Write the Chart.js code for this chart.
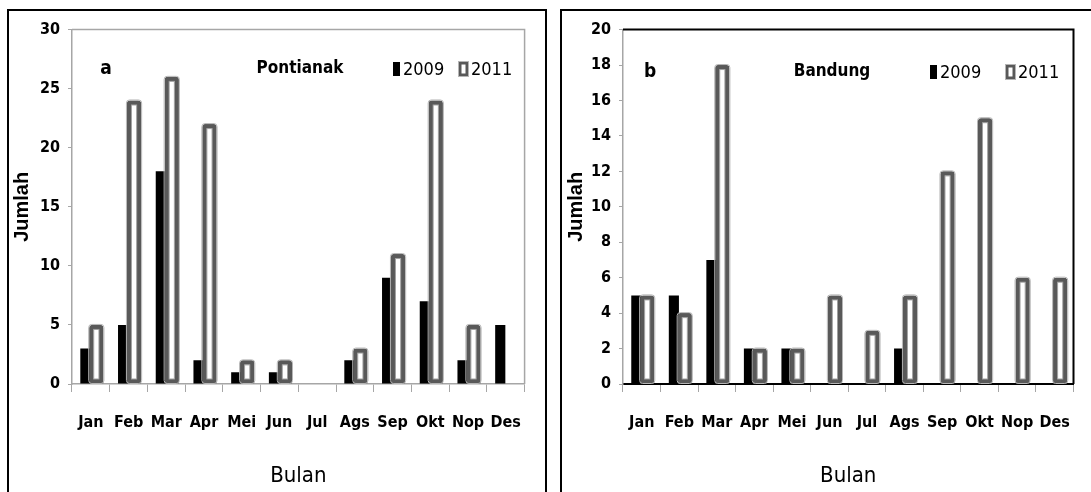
<!DOCTYPE html>
<html>
<head>
<meta charset="utf-8">
<script src="https://cdn.jsdelivr.net/npm/chart.js@4.4.1/dist/chart.umd.min.js"></script>
<style>
  body { margin: 0; background: #fff; width: 1091px; height: 492px; overflow: hidden; position: relative; }
  .box { position: absolute; border: 2px solid #000; box-sizing: border-box; }
  #boxA { left: 7px; top: 9px; width: 540px; height: 500px; }
  #boxB { left: 560px; top: 9px; width: 540px; height: 500px; }
  canvas { position: absolute; }
  #chartA { left: 10px; top: 12px; width: 532px; height: 478px; }
  #chartB { left: 564px; top: 12px; width: 527px; height: 478px; }
</style>
</head>
<body>
<div class="box" id="boxA"></div>
<div class="box" id="boxB"></div>
<canvas id="chartA" width="532" height="478"></canvas>
<canvas id="chartB" width="527" height="478"></canvas>
<script>
// data
const bulan = ['Jan', 'Feb', 'Mar', 'Apr', 'Mei', 'Jun', 'Jul', 'Ags', 'Sep', 'Okt', 'Nop', 'Des'];
const tahun = ['2009', '2011'];
const pontianak2009 = [3, 5, 18, 2, 1, 1, 0, 2, 9, 7, 2, 5];
const pontianak2011 = [5, 24, 26, 22, 2, 2, 0, 3, 11, 24, 5, 0];
const bandung2009 = [5, 5, 7, 2, 2, 0, 0, 2, 0, 0, 0, 0];
const bandung2011 = [5, 4, 18, 2, 2, 5, 3, 5, 12, 15, 6, 6];
const yTicksA = [0, 5, 10, 15, 20, 25, 30];
const yTicksB = [0, 2, 4, 6, 8, 10, 12, 14, 16, 18, 20];

const narrow = "'DejaVu Sans Condensed', 'Liberation Sans Narrow', sans-serif";

// frame round the plot area
const frame = {
  id: 'frame',
  beforeDatasetsDraw(chart, args, opts) {
    const a = chart.chartArea;
    const ctx = chart.ctx;
    ctx.save();
    ctx.strokeStyle = opts.color;
    ctx.lineWidth = opts.width;
    ctx.beginPath();
    ctx.moveTo(a.left, a.top);
    ctx.lineTo(a.right, a.top);
    ctx.lineTo(a.right, a.bottom);
    ctx.stroke();
    ctx.restore();
  }
};

// 2011 bars go on top of the 2009 ones, with a light rim and inner line
const bevel = {
  id: 'bevel',
  afterDatasetsDraw(chart) {
    const ctx = chart.ctx;
    const vals = chart.data.datasets[1].data;
    chart.getDatasetMeta(1).data.forEach((bar, i) => {
      if (!vals[i]) return;
      bar.draw(ctx);
      const p = bar.getProps(['x', 'y', 'base', 'width'], true);
      const l = p.x - p.width / 2;
      const h = p.base - p.y;
      ctx.save();
      ctx.lineWidth = 1;
      ctx.strokeStyle = '#b5b5b5';
      ctx.beginPath();
      ctx.roundRect(l - 0.5, p.y - 0.5, p.width + 1, h + 0.5, 3);
      ctx.stroke();
      ctx.strokeStyle = '#a0a0a0';
      ctx.strokeRect(l + 4.5, p.y + 4.5, p.width - 9, h - 9);
      ctx.restore();
    });
  }
};

// panel letter, city name and legend inside the plot
const header = {
  id: 'header',
  afterDraw(chart, args, o) {
    const ctx = chart.ctx;
    const ds = chart.data.datasets;
    ctx.save();
    ctx.fillStyle = '#000';
    ctx.textBaseline = 'middle';
    ctx.textAlign = 'center';
    ctx.font = 'bold 19px ' + narrow;
    ctx.fillText(o.letter, o.letterX, o.y);
    ctx.font = 'bold 17px ' + narrow;
    ctx.fillText(o.city, o.cityX, o.y);
    ctx.textAlign = 'left';
    ctx.font = '18px ' + narrow;
    // 2009
    ctx.fillStyle = ds[0].backgroundColor;
    ctx.fillRect(o.legX[0], o.y - 7, 7, 14);
    ctx.fillStyle = '#000';
    ctx.fillText(ds[0].label, o.legX[0] + 10, o.y + 1);
    // 2011
    const bx = o.legX[1];
    ctx.fillStyle = ds[1].borderColor;
    ctx.fillRect(bx, o.y - 7, 9, 14);
    ctx.fillStyle = '#fff';
    ctx.fillRect(bx + 2.5, o.y - 4.5, 4, 9);
    ctx.strokeStyle = '#b5b5b5';
    ctx.lineWidth = 1;
    ctx.strokeRect(bx - 0.5, o.y - 7.5, 10, 15);
    ctx.fillStyle = '#000';
    ctx.fillText(ds[1].label, bx + 12, o.y + 1);
    ctx.restore();
  }
};

function makeChart(id, d2009, d2011, yTicks, look) {
  const ctx = document.getElementById(id);
  return new Chart(ctx, {
    type: 'bar',
    data: {
      labels: bulan,
      datasets: [{
        label: tahun[0],
        data: d2009,
        backgroundColor: '#000',
        barPercentage: 0.93,
        categoryPercentage: 0.58
      }, {
        label: tahun[1],
        data: d2011,
        backgroundColor: '#fff',
        borderColor: '#595959',
        borderWidth: 4.5,
        borderSkipped: false,
        borderRadius: { topLeft: 3, topRight: 3 },
        barPercentage: 1.3,
        categoryPercentage: 0.58
      }]
    },
    options: {
      responsive: false,
      animation: false,
      layout: { padding: { top: look.top, right: 3, left: 0, bottom: 0 } },
      plugins: {
        legend: { display: false },
        tooltip: { enabled: false },
        frame: { color: look.frameColor, width: look.frameWidth },
        header: look.header
      },
      scales: {
        x: {
          grid: { display: true, drawOnChartArea: false, tickLength: 8, color: '#a6a6a6', offset: true },
          border: { color: look.xAxisColor, width: look.frameWidth },
          ticks: { color: '#000', font: { family: narrow, size: 16, weight: 'bold' }, padding: 21, maxRotation: 0, autoSkip: false },
          title: { display: true, text: 'Bulan', color: '#000', font: { family: narrow, size: 22 }, padding: { top: 0, bottom: 1 } },
          afterFit(s) { s.height = 106; }
        },
        y: {
          min: yTicks[0],
          max: yTicks[yTicks.length - 1],
          grid: { drawOnChartArea: false, tickLength: 4, color: '#a6a6a6' },
          border: { color: '#a6a6a6', width: 1.5 },
          ticks: { stepSize: yTicks[1] - yTicks[0], color: '#000', font: { family: narrow, size: 16, weight: 'bold' }, padding: 8 },
          title: { display: true, text: 'Jumlah', color: '#000', font: { family: "'Liberation Sans', Arial, sans-serif", size: 20, weight: 'bold' }, padding: { top: look.titlePad, bottom: 0 } },
          afterFit(s) { s.width = look.yWidth; }
        }
      }
    },
    plugins: [frame, bevel, header]
  });
}

makeChart('chartA', pontianak2009, pontianak2011, yTicksA, {
  top: 17, yWidth: 62, titlePad: 0,
  frameColor: '#a6a6a6', frameWidth: 1.5, xAxisColor: '#a6a6a6',
  header: { letter: 'a', city: 'Pontianak', letterX: 96, cityX: 290, y: 57, legX: [383, 449] }
});

makeChart('chartB', bandung2009, bandung2011, yTicksB, {
  top: 16, yWidth: 59, titlePad: 0,
  frameColor: '#000', frameWidth: 2, xAxisColor: '#000',
  header: { letter: 'b', city: 'Bandung', letterX: 86, cityX: 268, y: 60, legX: [366, 442] }
});
</script>
</body>
</html>
